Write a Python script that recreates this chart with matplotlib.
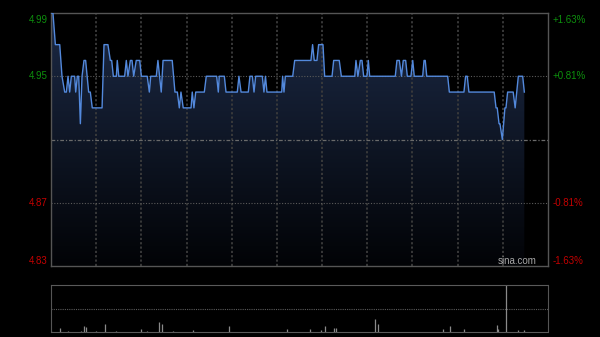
import numpy as np
import matplotlib.pyplot as plt
from matplotlib.patches import Polygon

plt.rcParams['font.family'] = ['Liberation Sans', 'DejaVu Sans']

#############################################
# Data: intraday price (minutes since open, HK session = 330 min)
#############################################
minutes = [0, 1.3, 2.9, 5.8, 7.3, 9.1, 10.2, 11.3, 12.4, 13.5,
           15.7, 16.4, 17.5, 18.4, 19.5, 20.6, 21.9, 23.0, 25.0, 26.1,
           27.4, 33.9, 35.2, 37.8, 39.4, 40.3, 41.4, 43.4, 44.0, 45.0,
           48.9, 50.0, 51.1, 52.7, 53.8, 54.9, 56.6, 58.9, 60.0, 63.9,
           65.3, 66.2, 69.9, 71.0, 73.2, 74.4, 80.5, 82.3, 83.9, 85.2,
           86.3, 87.8, 93.0, 93.8, 94.9, 96.1, 101.8, 103.1, 110.0, 111.1,
           111.7, 115.1, 116.2, 123.7, 124.8, 126.2, 131.0, 132.1, 133.7, 134.8,
           135.9, 140.3, 141.4, 142.4, 143.4, 153.2, 153.8, 154.7, 155.6, 160.5,
           161.8, 172.6, 173.7, 174.8, 176.6, 177.7, 180.6, 181.7, 186.6, 187.7,
           191.4, 192.8, 201.7, 202.5, 203.8, 205.4, 206.5, 207.6, 209.8, 210.7,
           211.6, 228.6, 229.7, 231.3, 232.7, 233.9, 235.5, 236.6, 239.0, 240.2,
           241.2, 246.8, 247.7, 248.5, 249.5, 263.4, 264.5, 274.2, 275.3, 276.4,
           277.5, 294.3, 295.5, 296.3, 297.5, 298.1, 299.7, 301.4, 302.1, 303.2,
           306.9, 308.2, 310.3, 313.2, 314.3]
prices = [4.99, 4.99, 4.97, 4.97, 4.95, 4.94, 4.94, 4.95, 4.94, 4.95,
          4.95, 4.94, 4.95, 4.95, 4.92, 4.95, 4.96, 4.96, 4.94, 4.94,
          4.93, 4.93, 4.97, 4.97, 4.96, 4.96, 4.95, 4.95, 4.96, 4.95,
          4.95, 4.96, 4.95, 4.96, 4.96, 4.95, 4.96, 4.96, 4.95, 4.95,
          4.94, 4.95, 4.95, 4.96, 4.94, 4.96, 4.96, 4.94, 4.94, 4.93,
          4.94, 4.93, 4.93, 4.94, 4.93, 4.94, 4.94, 4.95, 4.95, 4.94,
          4.95, 4.95, 4.94, 4.94, 4.95, 4.94, 4.94, 4.95, 4.95, 4.94,
          4.95, 4.95, 4.94, 4.95, 4.94, 4.94, 4.95, 4.94, 4.95, 4.95,
          4.96, 4.96, 4.97, 4.96, 4.96, 4.97, 4.97, 4.95, 4.95, 4.96,
          4.96, 4.95, 4.95, 4.96, 4.95, 4.96, 4.96, 4.95, 4.95, 4.96,
          4.95, 4.95, 4.96, 4.96, 4.95, 4.96, 4.96, 4.95, 4.95, 4.96,
          4.95, 4.95, 4.96, 4.96, 4.95, 4.95, 4.94, 4.94, 4.95, 4.95,
          4.94, 4.94, 4.93, 4.93, 4.92, 4.92, 4.91, 4.93, 4.93, 4.94,
          4.94, 4.93, 4.95, 4.95, 4.94]

# volume (relative units, biggest bar = 100)
vol_minutes = [0, 6, 11, 20, 22, 23, 30, 36, 43, 60,
               64, 72, 74, 81, 94, 118, 157, 172, 179, 182,
               188, 189, 215, 217, 260, 265, 274, 296, 297, 302,
               310, 314]
volumes = [4, 10, 3, 4, 14, 11, 3, 18, 4, 8,
           4, 23, 18, 4, 5, 13, 7, 7, 6, 14,
           10, 10, 28, 18, 7, 13, 8, 15, 8, 100,
           5, 5]

prev_close = 4.91
price_ticks = [4.99, 4.95, 4.87, 4.83]
pct_labels = ['+1.63%', '+0.81%', '-0.81%', '-1.63%']
session_len = 330
grid_step = 30

assert len(minutes) == len(prices)

#############################################
# Figure
#############################################
fig = plt.figure(figsize=(6, 3.37), dpi=100, facecolor='black')
ax = fig.add_axes([0.085, 0.2107, 0.8283, 0.7507])
axv = fig.add_axes([0.085, 0.0134, 0.8283, 0.1409])

ymin, ymax = price_ticks[-1], price_ticks[0]
ax.set_facecolor('black')
ax.set_xlim(0, session_len)
ax.set_ylim(ymin, ymax)
ax.set_xticks([])
ax.set_yticks([])
for s in ax.spines.values():
    s.set_color('#555555')
    s.set_linewidth(1)

# gradient fill under the price line
top_c = np.array([28, 42, 70]) / 255
bot_c = np.array([2, 3, 6]) / 255
g = np.linspace(1, 0, 256).reshape(-1, 1, 1)
img = bot_c + (top_c - bot_c) * g
poly = Polygon(list(zip(minutes, prices)) + [(minutes[-1], ymin), (minutes[0], ymin)],
               closed=True, facecolor='none', edgecolor='none')
ax.add_patch(poly)
im = ax.imshow(img, extent=[0, session_len, ymin, ymax], aspect='auto',
               origin='upper', zorder=1)
im.set_clip_path(poly)

# grid
for t in range(grid_step, session_len, grid_step):
    ax.axvline(t, color='#3c3c3c', lw=1.3, ls=(0, (1.2, 1.2)), zorder=2)
for p in [price_ticks[1], price_ticks[2]]:
    ax.axhline(p, color='#5a5a5a', lw=0.8, ls=(0, (1, 1.5)), zorder=2)
ax.axhline(prev_close, color='#6a6a6a', lw=0.9, ls=(0, (3, 1.5, 1, 1.5)), zorder=2)

ax.plot(minutes, prices, color='#5389dc', lw=1.0, zorder=3)

# axis labels
for p, lab in zip(price_ticks, pct_labels):
    col = '#0d8f0d' if p > prev_close else '#c40000'
    if p == ymax:
        va, dy = 'top', -1.2
    elif p == ymin:
        va, dy = 'bottom', 0
    else:
        va, dy = 'center', 0
    ax.annotate(f'{p:.2f}', xy=(0, p), xycoords=ax.get_yaxis_transform(),
                xytext=(-2.5, dy), textcoords='offset points',
                ha='right', va=va, color=col, fontsize=7)
    ax.annotate(lab, xy=(1, p), xycoords=ax.get_yaxis_transform(),
                xytext=(3.5, dy), textcoords='offset points',
                ha='left', va=va, color=col, fontsize=7)

ax.text(0.978, 0.018, 'sina.com', transform=ax.transAxes, ha='right',
        va='center', color='#a8a8a8', fontsize=7)

#############################################
# Volume panel
#############################################
axv.set_facecolor('black')
axv.set_xlim(0, session_len)
axv.set_ylim(0, max(volumes))
axv.set_xticks([])
axv.set_yticks([])
for k in ['left', 'right']:
    axv.spines[k].set_color('#555555')
for k in ['top', 'bottom']:
    axv.spines[k].set_color('#5a5a5a')
    axv.spines[k].set_linestyle((0, (1, 1)))
axv.axhline(max(volumes) / 2, color='#5a5a5a', lw=0.8, ls=(0, (1, 1)))
axv.vlines(vol_minutes, 0, volumes, color='#8a8a8a', lw=0.9)

plt.savefig('out.png', dpi=100, facecolor='black')
